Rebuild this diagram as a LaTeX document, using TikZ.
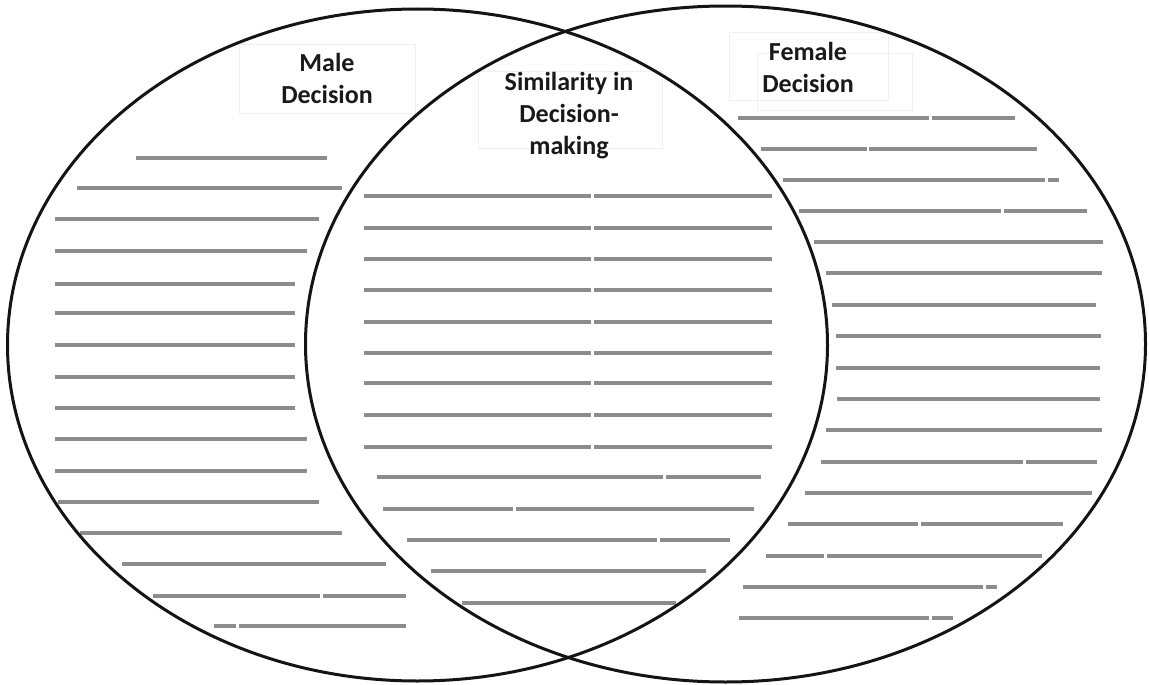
\documentclass[tikz,border=0pt]{standalone}
\usepackage{fontspec}
\setmainfont{Carlito}
\begin{document}
\begin{tikzpicture}[x=1pt,y=-1pt,
  outline/.style={draw=black!92, line width=3pt},
  rule/.style={draw=black!45, line width=3.2pt},
  frame/.style={draw=black!6, line width=1pt},
  label/.style={font=\bfseries\fontsize{26}{32}\selectfont, align=center,
                inner sep=0pt, text=black!90}]
\useasboundingbox (0,0) rectangle (1149,685);

% faint frames behind the headings
\draw[frame] (239,45) rectangle (415,113);
\draw[frame] (478,72) rectangle (662,148);
\draw[frame] (729,33) rectangle (888,100);
\draw[frame] (757,54) rectangle (912,110);

% writing lines, left part
\foreach \y/\a/\b in {158/136/327, 188/77/342, 219/55/319, 251/55/307,
    284/55/295, 313/55/295, 345/55/295, 377/55/295, 408/55/295,
    439/55/307, 471/55/307, 502/58/319, 533/80/342, 564/122/386,
    596/153/320, 596/323/406, 626/214/236, 626/239/406}
  \draw[rule] (\a,\y) -- (\b,\y);

% writing lines, shared part
\foreach \y in {196,228,259,290,322,353,383,415,447}{
  \draw[rule] (364,\y) -- (591,\y);
  \draw[rule] (594,\y) -- (772,\y);
}
\foreach \y/\a/\b in {477/377/663, 477/666/761, 509/383/513, 509/516/754,
    540/407/657, 540/660/730, 571/431/706, 603/462/676}
  \draw[rule] (\a,\y) -- (\b,\y);

% writing lines, right part
\foreach \y/\a/\b in {118/738/929, 118/932/1015, 149/761/867, 149/869/1037,
    180/783/1045, 180/1048/1059, 211/799/1001, 211/1004/1087,
    242/814/1103, 273/826/1102, 305/832/1096, 336/836/1101,
    368/836/1100, 399/837/1100, 430/826/1102, 462/821/1023, 462/1026/1097,
    493/805/1092, 524/788/918, 524/921/1063, 556/766/824, 556/827/1042,
    587/743/983, 587/986/997, 618/739/929, 618/932/953}
  \draw[rule] (\a,\y) -- (\b,\y);

% the two sets
\draw[outline] (417.5,345) ellipse [x radius=410, y radius=336];
\draw[outline] (725.5,344) ellipse [x radius=420, y radius=338];

% headings
\node[label] (male) at (327,78) {Male\\Decision};
\node[label] (similar) at (569,116) {Similarity in\\Decision-\\making};
\node[label] (female) at (808,67) {Female\\Decision};
\end{tikzpicture}
\end{document}
